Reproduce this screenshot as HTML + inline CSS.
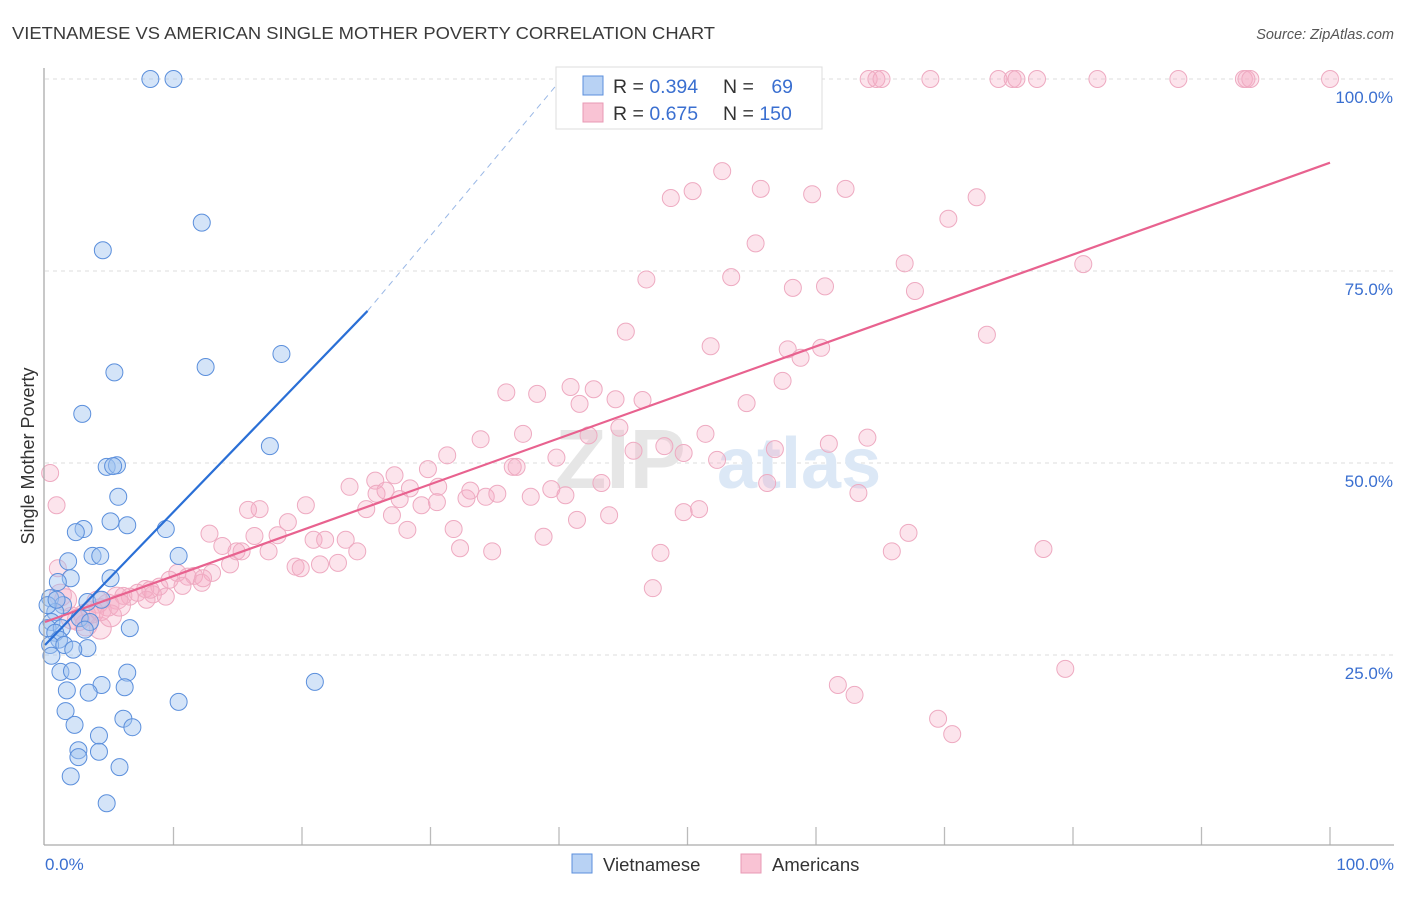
<!DOCTYPE html>
<html><head><meta charset="utf-8"><style>
body{margin:0;background:#fff;font-family:"Liberation Sans",sans-serif;}
svg text{font-family:"Liberation Sans",sans-serif;}
</style></head><body>
<svg id="chart" width="1406" height="892" viewBox="0 0 1406 892" xmlns="http://www.w3.org/2000/svg">
<text x="12" y="39" font-size="17.5" fill="#3a3a3a" textLength="703" lengthAdjust="spacingAndGlyphs">VIETNAMESE VS AMERICAN SINGLE MOTHER POVERTY CORRELATION CHART</text>
<text x="1394" y="39" font-size="14.5" fill="#555" font-style="italic" text-anchor="end">Source: ZipAtlas.com</text>
<g id="grid"></g>
<text x="555" y="488" font-size="84" fill="#e6e6e6" font-family="Liberation Serif" font-weight="bold">ZIP</text>
<text x="717" y="488" font-size="72" fill="#dce8f6" font-weight="bold">atlas</text>
<g id="pink"></g>
<g id="blue"></g>
<g id="lines"></g>
<line x1="44" y1="68" x2="44" y2="845" stroke="#aaa" stroke-width="1.3"/>
<line x1="44" y1="845" x2="1394" y2="845" stroke="#aaa" stroke-width="1.3"/>
<text transform="translate(34,456) rotate(-90)" font-size="18" fill="#333" text-anchor="middle">Single Mother Poverty</text>
<text x="45" y="870" font-size="17" fill="#3a6fd0">0.0%</text>
<text x="1394" y="870" font-size="17" fill="#3a6fd0" text-anchor="end">100.0%</text>
<g id="ylabels"></g>
<g>
<rect x="556" y="67" width="266" height="62" fill="#fff" stroke="#ddd"/>
<rect x="583" y="76" width="20" height="19" fill="#b8d2f4" stroke="#5b8fdc"/>
<rect x="583" y="103" width="20" height="19" fill="#f9c3d4" stroke="#e89ab4"/>
<text x="613" y="93" font-size="19.5" fill="#333">R = <tspan fill="#3a6fd0">0.394</tspan></text>
<text x="723" y="93" font-size="19.5" fill="#333">N = <tspan fill="#3a6fd0" dx="12">69</tspan></text>
<text x="613" y="120" font-size="19.5" fill="#333">R = <tspan fill="#3a6fd0">0.675</tspan></text>
<text x="723" y="120" font-size="19.5" fill="#333">N = <tspan fill="#3a6fd0">150</tspan></text>
</g>
<g>
<rect x="572" y="854" width="20" height="19" fill="#b8d2f4" stroke="#5b8fdc"/>
<text x="603" y="871" font-size="18.5" fill="#333">Vietnamese</text>
<rect x="741" y="854" width="20" height="19" fill="#f9c3d4" stroke="#e89ab4"/>
<text x="772" y="871" font-size="18.5" fill="#333">Americans</text>
</g>
</svg>
<script>
const yTicks=[25,50,75,100];
const yTickLabels=["25.0%","50.0%","75.0%","100.0%"];
const xTicks=[0,10,20,30,40,50,60,70,80,90,100];
const blueX=[8.2,10.0,12.2,4.5,18.4,12.5,5.4,2.9,17.5,4.8,5.6,5.3,5.7,5.1,6.4,9.4,3.0,2.4,1.8,3.7,4.3,10.4,2.0,5.1,1.0,0.4,3.3,4.4,1.4,0.8,2.7,0.5,0.2,1.3,6.6,0.8,1.1,0.4,1.5,3.3,2.2,0.5,6.4,1.2,2.1,4.4,6.2,1.7,3.4,10.4,21.0,1.6,6.1,6.8,2.3,4.2,2.6,2.6,4.2,5.8,2.0,4.8,3.5,3.1,0.2,0.9];
const blueY=[100,100,81.3,77.7,64.2,62.5,61.8,56.4,52.2,49.5,49.7,49.6,45.6,42.4,41.9,41.4,41.4,41.0,37.2,37.9,37.9,37.9,35.0,35.0,34.5,32.4,31.9,32.2,31.5,30.6,29.8,29.3,28.5,28.5,28.5,27.9,27.0,26.3,26.3,25.9,25.7,24.9,22.7,22.8,22.9,21.1,20.8,20.4,20.1,18.9,21.5,17.7,16.7,15.6,15.9,14.5,12.6,11.7,12.4,10.4,9.2,5.7,29.3,28.3,31.5,32.2];
const pinkX=[54.1,54.3,64.1,64.7,65.1,68.9,74.2,75.3,75.6,77.2,81.9,88.2,93.3,93.5,93.8,100,52.7,50.4,48.7,55.7,59.7,62.3,72.5,70.3,55.3,66.9,80.8,46.8,53.4,58.2,60.7,67.7,45.2,73.3,51.8,57.8,60.4,58.8,57.4,40.9,42.7,35.9,38.3,44.4,46.5,41.6,54.6,44.7,37.2,42.3,33.9,51.4,48.2,45.8,56.8,61.0,64.0,49.7,52.3,31.3,39.8,36.4,36.7,29.8,27.2,25.7,23.7,25.8,28.4,30.6,39.4,40.5,43.3,56.2,63.3,32.8,33.1,34.3,35.2,37.8,26.5,27.6,30.5,29.3,20.3,25.0,16.7,15.8,27.0,31.8,28.2,41.4,43.9,49.7,50.9,12.8,16.3,18.9,18.1,20.9,21.8,23.4,13.8,14.9,15.3,17.4,24.3,32.3,34.8,38.8,47.9,67.2,65.9,77.7,14.4,19.5,19.9,21.4,22.8,10.3,11.1,11.6,13.0,12.2,9.7,8.9,8.4,7.8,7.2,6.6,6.1,5.6,4.9,4.1,3.7,3.1,2.6,4.3,3.2,2.1,1.6,1.2,1.0,0.9,0.4,47.3,61.7,63.0,69.5,70.6,79.4,10.7,9.4,12.3,7.9,4.3,5.1,5.8,8.2];
const pinkY=[100,100,100,100,100,100,100,100,100,100,100,100,100,100,100,100,88.0,85.4,84.5,85.7,85.0,85.7,84.6,81.8,78.6,76.0,75.9,73.9,74.2,72.8,73.0,72.4,67.1,66.7,65.2,64.8,65.0,63.7,60.7,59.9,59.6,59.2,59.0,58.3,58.2,57.7,57.8,54.6,53.8,53.6,53.1,53.8,52.2,51.6,51.8,52.5,53.3,51.3,50.4,51.0,50.7,49.5,49.5,49.2,48.4,47.7,46.9,46.0,46.7,46.9,46.6,45.8,47.4,47.4,46.1,45.4,46.4,45.6,46.0,45.6,46.4,45.3,44.9,44.5,44.5,44.0,44.0,43.9,43.2,41.4,41.3,42.6,43.2,43.6,44.0,40.8,40.5,42.3,40.6,40.0,40.0,40.0,39.2,38.5,38.5,38.5,38.5,38.9,38.5,40.4,38.3,40.9,38.5,38.8,36.8,36.5,36.3,36.8,37.0,35.7,35.2,35.3,35.7,34.4,34.8,33.9,32.9,33.6,33.1,32.6,32.7,32.4,31.5,31.9,30.6,30.2,29.6,28.5,28.9,29.8,32.2,32.8,36.3,44.5,48.7,33.7,21.1,19.8,16.7,14.7,23.2,34.0,32.6,35.0,32.2,30.9,30.1,31.5,33.5];
const blueTrend=[0,26.3,25.1,69.8];
const blueDash=[25.1,69.8,40.2,100];
const pinkTrend=[0,29.3,100,89.1];

const NS="http://www.w3.org/2000/svg";
const X=v=>45+v*12.85;
const Y=v=>847-v*7.68;
function mk(tag,parent,attrs){const e=document.createElementNS(NS,tag);for(const k in attrs)e.setAttribute(k,attrs[k]);document.getElementById(parent).appendChild(e);return e;}
yTicks.forEach((t,i)=>{
  const l=mk('line','grid',{x1:45,x2:1394,y1:Y(t),y2:Y(t),stroke:'#ddd','stroke-dasharray':'4,4'});
  
  
  const tx=mk('text','ylabels',{x:1393,y:Y(t)+24,'font-size':17,fill:'#3a6fd0','text-anchor':'end'});
  tx.textContent=yTickLabels[i];
  
  
});
xTicks.forEach(t=>{
  if(t===0)return;
  const l=mk('line','grid',{x1:X(t),x2:X(t),y1:827,y2:845,stroke:'#bbb','stroke-width':1.3});
  
  
});
pinkX.forEach((x,i)=>{
  const big=x<6&&pinkY[i]<34;
  const c=mk('circle','pink',{cx:X(x),cy:Y(pinkY[i]),r:big?11:8.5,fill:'rgba(246,172,197,0.32)',stroke:'#eeaac1','stroke-width':1});
  
  
});
blueX.forEach((x,i)=>{
  const c=mk('circle','blue',{cx:X(x),cy:Y(blueY[i]),r:8.5,fill:'rgba(160,196,240,0.45)',stroke:'#5b8fdc','stroke-width':1});
  
  
});
let l1=mk('line','lines',{x1:X(pinkTrend[0]),y1:Y(pinkTrend[1]),x2:X(pinkTrend[2]),y2:Y(pinkTrend[3]),stroke:'#e8628f','stroke-width':2.2});


let l2=mk('line','lines',{x1:X(blueTrend[0]),y1:Y(blueTrend[1]),x2:X(blueTrend[2]),y2:Y(blueTrend[3]),stroke:'#2a6fd6','stroke-width':2.2});


let l3=mk('line','lines',{x1:X(blueDash[0]),y1:Y(blueDash[1]),x2:X(blueDash[2]),y2:Y(blueDash[3]),stroke:'#9ab8e6','stroke-width':1,'stroke-dasharray':'6,5'});


</script>
</body></html>
